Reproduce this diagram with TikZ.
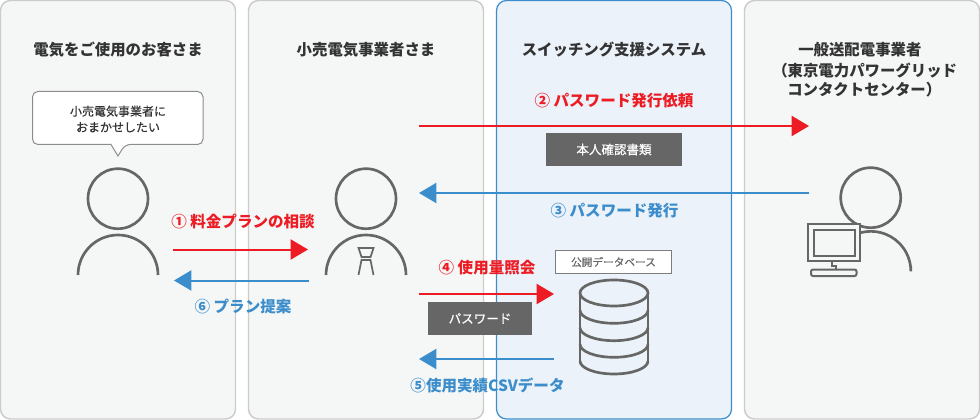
\documentclass[tikz,border=0pt]{standalone}
\usepackage{fontspec}
\usepackage{xcolor}
\setmainfont{Noto Sans CJK JP}
\newfontfamily\medfont[FakeBold=0.45]{Noto Sans CJK JP}
\usetikzlibrary{arrows.meta}
\definecolor{panelfill}{HTML}{F5F7F7}
\definecolor{panelline}{HTML}{CCCCCC}
\definecolor{sysfill}{HTML}{EBF2F9}
\definecolor{flowblue}{HTML}{3C8DCB}
\definecolor{flowred}{HTML}{ED1C24}
\definecolor{icongray}{HTML}{666666}
\definecolor{headtext}{HTML}{333333}
\tikzset{
  panel/.style={draw=panelline,fill=panelfill,line width=1.1pt,rounded corners=7.5pt},
  syspanel/.style={panel,draw=flowblue,fill=sysfill,line width=0.9pt},
  heading/.style={text=headtext,font=\fontsize{11.55}{15}\selectfont\bfseries,align=center,inner sep=0pt},
  iconline/.style={draw=icongray,line width=2pt},
  redflow/.style={draw=flowred,line width=1.5pt,-{Triangle[length=13pt,width=15pt,fill=flowred]}},
  blueflow/.style={draw=flowblue,line width=1.5pt,-{Triangle[length=13pt,width=15pt,fill=flowblue]}},
  redlabel/.style={text=flowred,font=\fontsize{11.65}{14}\selectfont\bfseries,inner sep=0pt},
  bluelabel/.style={text=flowblue,font=\fontsize{11.65}{14}\selectfont\bfseries,inner sep=0pt},
  darkbox/.style={fill=icongray,text=white,font=\fontsize{9.4}{11}\medfont,inner sep=0pt},
}
\begin{document}
\begin{tikzpicture}[x=0.75pt,y=-0.75pt]
    \useasboundingbox[fill=white] (0,0) rectangle (980,420);
    % Panels
    \foreach \px in {0.5,248.5,744.5}
      \draw[panel] (\px,0.5) rectangle (\px+235,419);
    \draw[syspanel] (496.5,0.5) rectangle (731.5,419);
    % Headings
    \node[heading] (custhead) at (118,50) {電気をご使用のお客さま};
    \node[heading] (retailhead) at (366,50) {小売電気事業者さま};
    \node[heading] (syshead) at (614,50) {スイッチング支援システム};
    \node[heading,anchor=west] (gridhead1) at (798,50) {一般送配電事業者};
    \node[heading,anchor=west] (gridhead2) at (772,70.5) {（東京電力パワーグリッド};
    \node[heading,anchor=west] (gridhead3) at (787,90) {コンタクトセンター）};
    % Speech bubble
    \draw[draw=black!45,fill=white,line width=0.75pt,rounded corners=4pt]
      (32.5,91.5) -- (203,91.5) -- (203,144.5) -- (125,144.5) [sharp corners] -- (118,156) -- (111,144.5)
      [rounded corners=4pt] -- (32.5,144.5) -- cycle;
    \node[text=headtext,font=\fontsize{9}{12}\medfont,align=center,inner sep=0pt] (bubbletext) at (118,119)
      {小売電気事業者に\\おまかせしたい};
    % Customer
    \draw[iconline] (118,198.7) circle (30);
    \draw[iconline] (78,275) arc[start angle=180,end angle=360,radius=40];
    % Retailer with tie
    \draw[iconline] (366,198.7) circle (30);
    \draw[iconline] (326,275) arc[start angle=180,end angle=360,radius=40];
    \draw[iconline,line width=1.3pt] (358.5,248) -- (373.5,248) -- (370.5,257) -- (361.5,257) -- cycle;
    \draw[iconline,line width=1.3pt] (358.5,275) -- (361.5,260) -- (370.5,260) -- (373.5,275);
    % Grid operator with monitor
    \draw[iconline] (870.7,197.7) circle (30);
    \draw[iconline] (860.5,232.7) arc[start angle=255,end angle=360,radius=40];
    \draw[iconline,line width=1.5pt,fill=panelfill] (807.5,224) rectangle (860,261);
    \draw[iconline,line width=1.5pt] (813.5,229.5) rectangle (855,256);
    \draw[iconline,line width=1.5pt] (832,261) -- (832,266) -- (836,266) -- (836,269);
    \draw[iconline,line width=1.5pt,rounded corners=1.5pt] (811,276) -- (811,269.5) -- (856.5,269.5) -- (856.5,276) -- cycle;
    % Database
    \node[draw=icongray!85,fill=white,line width=1pt,text=icongray,minimum width=87pt,minimum height=17pt,
      inner sep=0pt,font=\fontsize{8}{10}\medfont] (dblabel) at (613.5,262) {公開データベース};
    \draw[iconline] (614,293) circle[x radius=34,y radius=13];
    \draw[iconline] (580,293) -- (580,361) (648,293) -- (648,361);
    \foreach \dby in {310.3,327.7,344.3,361}
      \draw[iconline] (580,\dby) arc[start angle=180,end angle=0,x radius=34,y radius=13];
    % Flow ends
    \coordinate (askstart) at (173,249.5);
    \coordinate (askend) at (308,249.5);
    \coordinate (offerstart) at (309,280.5);
    \coordinate (offerend) at (174,280.5);
    \coordinate (reqstart) at (419,126);
    \coordinate (reqend) at (809,126);
    \coordinate (issuestart) at (809,193);
    \coordinate (issueend) at (419,193);
    \coordinate (usestart) at (419,294);
    \coordinate (useend) at (554,294);
    \coordinate (csvstart) at (554,359);
    \coordinate (csvend) at (419,359);
    % Flows
    \draw[redflow] (askstart) -- (askend);
    \draw[blueflow] (offerstart) -- (offerend);
    \draw[redflow] (reqstart) -- (reqend);
    \draw[blueflow] (issuestart) -- (issueend);
    \draw[redflow] (usestart) -- (useend);
    \draw[blueflow] (csvstart) -- (csvend);
    % Labels
    \node[redlabel] (asklabel) at (243,222) {① 料金プランの相談};
    \node[bluelabel] (offerlabel) at (243,307) {⑥ プラン提案};
    \node[redlabel] (reqlabel) at (614,101) {② パスワード発行依頼};
    \node[bluelabel] (issuelabel) at (614.5,211) {③ パスワード発行};
    \node[redlabel] (uselabel) at (487,268) {④ 使用量照会};
    \node[bluelabel] (csvlabel) at (487.5,385) {⑤使用実績CSVデータ};
    % Documents
    \node[darkbox,minimum width=102pt,minimum height=24.5pt] (docbox) at (614,149.5) {本人確認書類};
    \node[darkbox,minimum width=78pt,minimum height=24.5pt] (passbox) at (480,318.5) {パスワード};
  \end{tikzpicture}
\end{document}
